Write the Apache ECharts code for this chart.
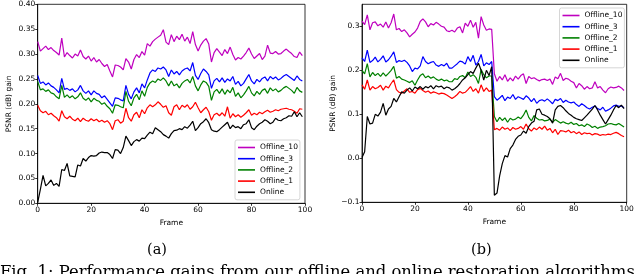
<!DOCTYPE html>
<html>
<head>
<meta charset="utf-8">
<script src="https://cdn.jsdelivr.net/npm/echarts@6/dist/echarts.min.js"></script>
<style>
html,body{margin:0;padding:0;background:#fff;}
#c{width:640px;height:274px;}
</style>
</head>
<body>
<div id="c"></div>
<script>
// ---------- data ----------
const seriesNames = ['Offline_10', 'Offline_3', 'Offline_2', 'Offline_1', 'Online'];
const xTicks = [0, 20, 40, 60, 80, 100];
const yTicksA = [0.00, 0.05, 0.10, 0.15, 0.20, 0.25, 0.30, 0.35, 0.40];
const yTicksB = [-0.1, 0.0, 0.1, 0.2, 0.3];
const subCaptions = ['(a)', '(b)'];
const figCaption = 'Fig. 1: Performance gains from our offline and online restoration algorithms';
const yAxisTitle = 'PSNR (dB) gain';
const xAxisTitle = 'Frame';

// (a)
const off10A = [
0.325,0.306,0.311,0.316,0.309,0.313,0.307,0.303,0.298,0.332,
0.294,0.303,0.297,0.292,0.300,0.296,0.308,0.295,0.290,0.296,
0.286,0.293,0.284,0.289,0.281,0.275,0.279,0.266,0.254,0.278,
0.277,0.274,0.268,0.291,0.284,0.270,0.289,0.299,0.293,0.305,
0.298,0.321,0.316,0.325,0.330,0.334,0.338,0.349,0.324,0.319,
0.339,0.325,0.336,0.329,0.340,0.326,0.334,0.321,0.345,0.319,
0.306,0.318,0.326,0.331,0.320,0.284,0.303,0.311,0.304,0.297,
0.309,0.301,0.314,0.299,0.288,0.293,0.290,0.296,0.303,0.312,
0.300,0.291,0.296,0.301,0.289,0.296,0.318,0.302,0.301,0.305,
0.300,0.301,0.306,0.310,0.305,0.301,0.295,0.293,0.304,0.297];
const off3A = [
0.257,0.241,0.244,0.238,0.242,0.236,0.233,0.228,0.222,0.251,
0.229,0.231,0.227,0.230,0.224,0.228,0.237,0.226,0.221,0.226,
0.218,0.226,0.221,0.219,0.212,0.216,0.209,0.202,0.195,0.212,
0.211,0.208,0.206,0.237,0.219,0.210,0.224,0.232,0.222,0.240,
0.232,0.248,0.262,0.268,0.265,0.272,0.270,0.274,0.268,0.255,
0.268,0.260,0.265,0.258,0.266,0.270,0.272,0.266,0.283,0.257,
0.249,0.261,0.270,0.265,0.258,0.231,0.246,0.251,0.244,0.252,
0.243,0.250,0.246,0.255,0.239,0.245,0.236,0.241,0.250,0.259,
0.246,0.240,0.249,0.244,0.251,0.254,0.246,0.255,0.250,0.254,
0.248,0.251,0.256,0.259,0.255,0.251,0.247,0.256,0.249,0.246];
const off2A = [
0.245,0.228,0.230,0.225,0.228,0.222,0.220,0.214,0.210,0.237,
0.213,0.218,0.212,0.216,0.210,0.214,0.222,0.211,0.207,0.212,
0.204,0.211,0.207,0.205,0.199,0.202,0.195,0.190,0.181,0.198,
0.197,0.194,0.192,0.225,0.205,0.196,0.212,0.219,0.208,0.226,
0.215,0.233,0.242,0.246,0.243,0.250,0.247,0.252,0.246,0.236,
0.246,0.236,0.240,0.232,0.241,0.246,0.249,0.242,0.255,0.236,
0.226,0.238,0.246,0.243,0.235,0.207,0.224,0.229,0.221,0.230,
0.219,0.228,0.222,0.233,0.215,0.222,0.212,0.218,0.226,0.235,
0.222,0.216,0.225,0.219,0.227,0.230,0.221,0.232,0.226,0.230,
0.224,0.227,0.232,0.235,0.231,0.227,0.221,0.233,0.226,0.223];
const off1A = [
0.197,0.186,0.182,0.185,0.178,0.181,0.176,0.172,0.165,0.186,
0.174,0.170,0.175,0.169,0.166,0.171,0.164,0.171,0.167,0.165,
0.170,0.166,0.169,0.164,0.167,0.163,0.166,0.160,0.148,0.166,
0.168,0.161,0.165,0.191,0.172,0.165,0.178,0.183,0.172,0.188,
0.180,0.192,0.198,0.194,0.198,0.204,0.199,0.193,0.196,0.182,
0.177,0.194,0.198,0.188,0.197,0.193,0.198,0.189,0.194,0.203,
0.192,0.182,0.188,0.193,0.184,0.167,0.178,0.181,0.176,0.182,
0.175,0.194,0.171,0.180,0.174,0.178,0.173,0.177,0.182,0.188,
0.177,0.181,0.178,0.183,0.180,0.184,0.187,0.183,0.185,0.188,
0.186,0.189,0.190,0.191,0.189,0.188,0.185,0.181,0.190,0.189];
const onlineA = [
0.002,0.028,0.056,0.035,0.040,0.047,0.036,0.040,0.034,0.068,
0.066,0.080,0.055,0.054,0.053,0.077,0.075,0.090,0.085,0.092,
0.096,0.095,0.096,0.101,0.103,0.102,0.102,0.098,0.090,0.108,
0.107,0.100,0.112,0.135,0.126,0.116,0.124,0.128,0.125,0.131,
0.130,0.137,0.143,0.140,0.152,0.148,0.144,0.138,0.135,0.131,
0.140,0.146,0.147,0.150,0.148,0.154,0.151,0.157,0.165,0.146,
0.152,0.160,0.164,0.170,0.162,0.148,0.145,0.144,0.148,0.153,
0.158,0.163,0.150,0.157,0.152,0.154,0.150,0.158,0.160,0.168,
0.152,0.148,0.155,0.160,0.163,0.168,0.165,0.160,0.163,0.171,
0.167,0.166,0.170,0.172,0.176,0.175,0.184,0.174,0.182,0.174];

// (b)
const off10B = [
0.312,0.304,0.326,0.292,0.308,0.310,0.301,0.305,0.298,0.310,
0.296,0.308,0.328,0.292,0.295,0.288,0.292,0.285,0.276,0.282,
0.287,0.296,0.311,0.317,0.310,0.299,0.306,0.303,0.309,0.305,
0.300,0.298,0.290,0.288,0.291,0.287,0.296,0.299,0.285,0.307,
0.300,0.314,0.298,0.309,0.273,0.322,0.303,0.291,0.294,0.293,
0.192,0.175,0.186,0.178,0.190,0.175,0.183,0.176,0.187,0.180,
0.188,0.192,0.170,0.186,0.181,0.183,0.179,0.176,0.179,0.180,
0.177,0.180,0.168,0.185,0.181,0.193,0.177,0.182,0.180,0.175,
0.172,0.160,0.170,0.165,0.157,0.163,0.158,0.160,0.174,0.160,
0.163,0.155,0.149,0.158,0.162,0.160,0.161,0.164,0.160,0.154];
const off3B = [
0.228,0.220,0.246,0.218,0.222,0.230,0.219,0.225,0.233,0.219,
0.224,0.232,0.242,0.218,0.222,0.220,0.223,0.218,0.210,0.197,
0.205,0.203,0.210,0.231,0.220,0.215,0.218,0.220,0.212,0.209,
0.213,0.210,0.216,0.205,0.205,0.210,0.215,0.221,0.219,0.214,
0.231,0.220,0.234,0.212,0.220,0.236,0.210,0.217,0.213,0.220,
0.140,0.132,0.137,0.143,0.131,0.139,0.136,0.145,0.134,0.140,
0.137,0.134,0.142,0.137,0.129,0.136,0.125,0.131,0.133,0.130,
0.135,0.130,0.124,0.134,0.131,0.136,0.127,0.132,0.128,0.126,
0.128,0.122,0.118,0.124,0.120,0.115,0.112,0.116,0.119,0.113,
0.110,0.116,0.107,0.110,0.114,0.119,0.121,0.118,0.119,0.115];
const off2B = [
0.200,0.192,0.215,0.185,0.195,0.188,0.193,0.186,0.194,0.187,
0.193,0.200,0.209,0.182,0.186,0.180,0.178,0.175,0.172,0.176,
0.166,0.178,0.188,0.192,0.183,0.187,0.182,0.185,0.180,0.177,
0.180,0.176,0.178,0.174,0.174,0.181,0.179,0.186,0.188,0.183,
0.196,0.186,0.190,0.184,0.170,0.202,0.190,0.183,0.187,0.187,
0.095,0.083,0.093,0.086,0.092,0.082,0.091,0.087,0.089,0.094,
0.090,0.098,0.110,0.093,0.085,0.097,0.091,0.087,0.088,0.085,
0.086,0.089,0.082,0.088,0.084,0.080,0.083,0.080,0.078,0.082,
0.077,0.079,0.074,0.076,0.072,0.078,0.075,0.070,0.073,0.068,
0.071,0.072,0.074,0.078,0.079,0.077,0.076,0.079,0.075,0.071];
const off1B = [
0.167,0.157,0.178,0.155,0.163,0.158,0.161,0.166,0.155,0.164,
0.160,0.170,0.178,0.156,0.150,0.148,0.153,0.158,0.150,0.152,
0.148,0.156,0.159,0.154,0.150,0.153,0.148,0.151,0.149,0.146,
0.148,0.147,0.144,0.140,0.136,0.140,0.145,0.152,0.148,0.150,
0.156,0.163,0.152,0.158,0.148,0.167,0.152,0.160,0.152,0.155,
0.065,0.068,0.064,0.071,0.066,0.069,0.063,0.070,0.066,0.068,
0.072,0.066,0.078,0.067,0.062,0.069,0.065,0.071,0.066,0.073,
0.064,0.068,0.058,0.066,0.054,0.063,0.062,0.060,0.064,0.058,
0.061,0.056,0.060,0.054,0.058,0.056,0.057,0.053,0.056,0.055,
0.052,0.054,0.053,0.055,0.054,0.057,0.059,0.056,0.052,0.049];
const onlineB = [
0.002,0.015,0.095,0.078,0.080,0.100,0.096,0.105,0.125,0.098,
0.112,0.118,0.136,0.128,0.140,0.151,0.148,0.155,0.160,0.153,
0.162,0.158,0.163,0.157,0.163,0.160,0.165,0.158,0.165,0.162,
0.164,0.158,0.162,0.160,0.155,0.158,0.163,0.170,0.178,0.183,
0.190,0.197,0.193,0.205,0.216,0.200,0.178,0.200,0.188,0.208,
-0.084,-0.079,-0.040,-0.012,0.006,0.003,0.022,0.030,0.043,0.050,
0.053,0.062,0.057,0.072,0.080,0.084,0.110,0.112,0.100,0.098,
0.095,0.090,0.080,0.110,0.118,0.120,0.115,0.108,0.102,0.098,
0.093,0.090,0.088,0.086,0.092,0.098,0.105,0.112,0.120,0.110,
0.098,0.088,0.078,0.088,0.098,0.110,0.120,0.115,0.121,0.113];

// ---------- styling ----------
const colors = ['#bf00bf', '#0000ff', '#008000', '#ff0000', '#000000'];
const FONT = 'DejaVu Sans';
const FS = 7.5;

const chart = echarts.init(document.getElementById('c'), null, {renderer: 'canvas'});

function mkSeries(arrs, gi) {
  return arrs.map((arr, k) => ({
    name: seriesNames[k],
    type: 'line',
    xAxisIndex: gi,
    yAxisIndex: gi,
    showSymbol: false,
    symbol: 'none',
    animation: false,
    lineStyle: {width: 1.2, color: colors[k]},
    itemStyle: {color: colors[k]},
    data: arr.map((v, i) => [i, v])
  }));
}

function xAxis(gi) {
  return {
    type: 'value', gridIndex: gi, min: 0, max: 100, interval: 20,
    name: xAxisTitle, nameLocation: 'middle', nameGap: 13,
    nameTextStyle: {fontFamily: FONT, fontSize: FS, color: '#000'},
    axisLine: {onZero: false, lineStyle: {color: '#000', width: 0.8}},
    axisTick: {length: 2.5, lineStyle: {color: '#000', width: 0.8}},
    axisLabel: {fontFamily: FONT, fontSize: FS, color: '#000', margin: 2.5,
      formatter: v => xTicks.includes(v) ? String(v) : ''},
    splitLine: {show: false}
  };
}

const legendCommon = {
  orient: 'vertical',
  data: seriesNames,
  icon: 'rect',
  itemWidth: 17,
  itemHeight: 1.6,
  itemGap: 2.2,
  padding: [3, 2, 3, 3],
  backgroundColor: 'rgba(255,255,255,0.85)',
  borderColor: '#cccccc',
  borderWidth: 0.8,
  borderRadius: 2,
  selectedMode: false,
  textStyle: {fontFamily: FONT, fontSize: FS, color: '#000', lineHeight: 9, padding: [0, 0, 0, 0]}
};

const option = {
  animation: false,
  backgroundColor: '#fff',
  grid: [
    {left: 37.7, top: 4.3, width: 267.3, height: 199, show: true, borderColor: '#000', borderWidth: 0.8, backgroundColor: 'transparent'},
    {left: 362, top: 4.3, width: 264.7, height: 198, show: true, borderColor: '#000', borderWidth: 0.8, backgroundColor: 'transparent'}
  ],
  xAxis: [xAxis(0), xAxis(1)],
  yAxis: [
    {
      type: 'value', gridIndex: 0, min: 0, max: 0.40, interval: 0.05,
      name: yAxisTitle, nameLocation: 'middle', nameGap: 25, nameRotate: 90,
      nameTextStyle: {fontFamily: FONT, fontSize: FS, color: '#000'},
      axisLine: {show: true, onZero: false, lineStyle: {color: '#000', width: 0.8}},
      axisTick: {show: true, length: 2.5, lineStyle: {color: '#000', width: 0.8}},
      axisLabel: {fontFamily: FONT, fontSize: FS, color: '#000', margin: 2.5,
        formatter: v => v.toFixed(2)},
      splitLine: {show: false}
    },
    {
      type: 'value', gridIndex: 1, min: -0.1, max: 0.35, interval: 0.1,
      name: yAxisTitle, nameLocation: 'middle', nameGap: 25, nameRotate: 90,
      nameTextStyle: {fontFamily: FONT, fontSize: FS, color: '#000'},
      axisLine: {show: true, onZero: false, lineStyle: {color: '#000', width: 0.8}},
      axisTick: {show: true, length: 2.5, lineStyle: {color: '#000', width: 0.8}, customValues: yTicksB},
      axisLabel: {fontFamily: FONT, fontSize: FS, color: '#000', margin: 2.5, customValues: yTicksB,
        formatter: v => (v > 0.31 ? '' : v.toFixed(1).replace('-', '\u2212'))},
      splitLine: {show: false}
    }
  ],
  legend: [
    Object.assign({}, legendCommon, {left: 235, top: 140}),
    Object.assign({}, legendCommon, {left: 559.5, top: 8})
  ],
  series: mkSeries([off10A, off3A, off2A, off1A, onlineA], 0)
    .concat(mkSeries([off10B, off3B, off2B, off1B, onlineB], 1)),
  graphic: [
    {type: 'text', style: {text: subCaptions[0], font: '14.5px "DejaVu Serif"', fill: '#000'}, left: 147, top: 243},
    {type: 'text', style: {text: subCaptions[1], font: '14.5px "DejaVu Serif"', fill: '#000'}, left: 471, top: 243},
    {type: 'text', style: {text: figCaption, font: '16.4px "DejaVu Serif"', fill: '#000'}, left: 0, top: 265}
  ]
};
chart.setOption(option);
</script>
</body>
</html>
